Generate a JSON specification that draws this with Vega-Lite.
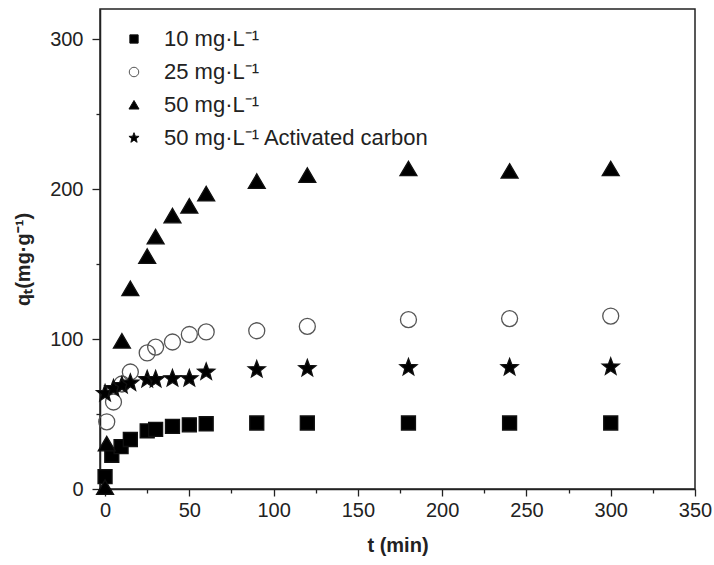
{
  "$schema": "https://vega.github.io/schema/vega-lite/v6.json",
  "width": 595,
  "height": 480,
  "autosize": {"type": "none"},
  "padding": {"left": 100, "top": 9, "right": 19, "bottom": 76},
  "background": "white",
  "config": {
    "font": "Liberation Sans",
    "view": {"stroke": "#222", "strokeWidth": 1.5},
    "axis": {
      "domainColor": "#222",
      "domainWidth": 1.5,
      "tickColor": "#222",
      "tickWidth": 1.3,
      "grid": false,
      "labelFont": "Liberation Sans",
      "labelFontSize": 20,
      "labelColor": "#222",
      "titleFont": "Liberation Sans",
      "titleFontSize": 20,
      "titleFontWeight": "bold",
      "titleColor": "#222"
    },
    "legend": {
      "orient": "none",
      "legendX": 23,
      "legendY": 19,
      "padding": 0,
      "labelFontSize": 22,
      "labelColor": "#222",
      "labelFont": "Liberation Sans",
      "labelOffset": 19,
      "labelLimit": 0,
      "rowPadding": 11,
      "symbolSize": 90,
      "symbolStrokeWidth": 1
    }
  },
  "data": {
    "values": [
      {"t": 0, "q": 8.2, "s": "10 mg·L⁻¹"},
      {"t": 4, "q": 22.5, "s": "10 mg·L⁻¹"},
      {"t": 9.5, "q": 28.2, "s": "10 mg·L⁻¹"},
      {"t": 15, "q": 33, "s": "10 mg·L⁻¹"},
      {"t": 25, "q": 38.7, "s": "10 mg·L⁻¹"},
      {"t": 30, "q": 39.8, "s": "10 mg·L⁻¹"},
      {"t": 40, "q": 41.8, "s": "10 mg·L⁻¹"},
      {"t": 50, "q": 42.8, "s": "10 mg·L⁻¹"},
      {"t": 60, "q": 43.5, "s": "10 mg·L⁻¹"},
      {"t": 90, "q": 44, "s": "10 mg·L⁻¹"},
      {"t": 120, "q": 44, "s": "10 mg·L⁻¹"},
      {"t": 180, "q": 44, "s": "10 mg·L⁻¹"},
      {"t": 240, "q": 44, "s": "10 mg·L⁻¹"},
      {"t": 300, "q": 44, "s": "10 mg·L⁻¹"},
      {"t": 1, "q": 44.8, "s": "25 mg·L⁻¹"},
      {"t": 5, "q": 58, "s": "25 mg·L⁻¹"},
      {"t": 10, "q": 70, "s": "25 mg·L⁻¹"},
      {"t": 15, "q": 78, "s": "25 mg·L⁻¹"},
      {"t": 25, "q": 90.7, "s": "25 mg·L⁻¹"},
      {"t": 30, "q": 94.6, "s": "25 mg·L⁻¹"},
      {"t": 40, "q": 98, "s": "25 mg·L⁻¹"},
      {"t": 50, "q": 103, "s": "25 mg·L⁻¹"},
      {"t": 60, "q": 104.7, "s": "25 mg·L⁻¹"},
      {"t": 90, "q": 105.5, "s": "25 mg·L⁻¹"},
      {"t": 120, "q": 108.4, "s": "25 mg·L⁻¹"},
      {"t": 180, "q": 112.9, "s": "25 mg·L⁻¹"},
      {"t": 240, "q": 113.6, "s": "25 mg·L⁻¹"},
      {"t": 300, "q": 115.3, "s": "25 mg·L⁻¹"},
      {"t": 0, "q": 1, "s": "50 mg·L⁻¹"},
      {"t": 1, "q": 30, "s": "50 mg·L⁻¹"},
      {"t": 10, "q": 98.5, "s": "50 mg·L⁻¹"},
      {"t": 15, "q": 133.5, "s": "50 mg·L⁻¹"},
      {"t": 25, "q": 155, "s": "50 mg·L⁻¹"},
      {"t": 30, "q": 168, "s": "50 mg·L⁻¹"},
      {"t": 40, "q": 182, "s": "50 mg·L⁻¹"},
      {"t": 50, "q": 188.5, "s": "50 mg·L⁻¹"},
      {"t": 60, "q": 196.7, "s": "50 mg·L⁻¹"},
      {"t": 90, "q": 205, "s": "50 mg·L⁻¹"},
      {"t": 120, "q": 209, "s": "50 mg·L⁻¹"},
      {"t": 180, "q": 213.4, "s": "50 mg·L⁻¹"},
      {"t": 240, "q": 211.8, "s": "50 mg·L⁻¹"},
      {"t": 300, "q": 213.4, "s": "50 mg·L⁻¹"},
      {"t": 0, "q": 63.7, "s": "50 mg·L⁻¹ Activated carbon"},
      {"t": 5, "q": 67, "s": "50 mg·L⁻¹ Activated carbon"},
      {"t": 10, "q": 69, "s": "50 mg·L⁻¹ Activated carbon"},
      {"t": 15, "q": 70.7, "s": "50 mg·L⁻¹ Activated carbon"},
      {"t": 25, "q": 73, "s": "50 mg·L⁻¹ Activated carbon"},
      {"t": 30, "q": 73, "s": "50 mg·L⁻¹ Activated carbon"},
      {"t": 40, "q": 73.6, "s": "50 mg·L⁻¹ Activated carbon"},
      {"t": 50, "q": 73.6, "s": "50 mg·L⁻¹ Activated carbon"},
      {"t": 60, "q": 78, "s": "50 mg·L⁻¹ Activated carbon"},
      {"t": 90, "q": 79.6, "s": "50 mg·L⁻¹ Activated carbon"},
      {"t": 120, "q": 80.3, "s": "50 mg·L⁻¹ Activated carbon"},
      {"t": 180, "q": 81, "s": "50 mg·L⁻¹ Activated carbon"},
      {"t": 240, "q": 81, "s": "50 mg·L⁻¹ Activated carbon"},
      {"t": 300, "q": 81.4, "s": "50 mg·L⁻¹ Activated carbon"}
    ]
  },
  "mark": {"type": "point", "strokeWidth": 1.3, "opacity": 1, "size": 256},
  "encoding": {
    "x": {
      "field": "t",
      "type": "quantitative",
      "scale": {"domain": [-3, 350], "nice": false, "zero": false},
      "axis": {
        "title": "t (min)",
        "values": [0, 25, 50, 75, 100, 125, 150, 175, 200, 225, 250, 275, 300, 325, 350],
        "labelExpr": "datum.value % 50 === 0 ? datum.label : ''",
        "tickSize": {"condition": {"test": "datum.value % 50 === 0", "value": 7}, "value": 4},
        "labelPadding": 4,
        "labelFlush": false,
        "titleY": 56,
        "titleBaseline": "middle"
      }
    },
    "y": {
      "field": "q",
      "type": "quantitative",
      "scale": {"domain": [0, 320], "nice": false},
      "axis": {
        "title": "qₜ(mg·g⁻¹)",
        "values": [0, 50, 100, 150, 200, 250, 300],
        "labelExpr": "datum.value % 100 === 0 ? datum.label : ''",
        "tickSize": {"condition": {"test": "datum.value % 100 === 0", "value": 8}, "value": 4},
        "labelPadding": 9,
        "labelFlush": false,
        "titleAngle": 270,
        "titleX": -77,
        "titleY": 250,
        "titleAlign": "center",
        "titleBaseline": "middle"
      }
    },
    "shape": {
      "field": "s",
      "type": "nominal",
      "title": null,
      "scale": {
        "domain": ["10 mg·L⁻¹", "25 mg·L⁻¹", "50 mg·L⁻¹", "50 mg·L⁻¹ Activated carbon"],
        "range": [
          "M-0.875,-0.875L0.875,-0.875L0.875,0.875L-0.875,0.875Z",
          "circle",
          "M0,-0.95L1.06,0.85L-1.06,0.85Z",
          "M0,-1.12L0.28,-0.38L1.065,-0.346L0.45,0.146L0.658,0.906L0,0.47L-0.658,0.906L-0.45,0.146L-1.065,-0.346L-0.28,-0.38Z"
        ]
      },
      "legend": {"title": null}
    },
    "fill": {
      "field": "s",
      "type": "nominal",
      "title": null,
      "scale": {
        "domain": ["10 mg·L⁻¹", "25 mg·L⁻¹", "50 mg·L⁻¹", "50 mg·L⁻¹ Activated carbon"],
        "range": ["#000000", "transparent", "#000000", "#000000"]
      }
    },
    "stroke": {
      "field": "s",
      "type": "nominal",
      "title": null,
      "scale": {
        "domain": ["10 mg·L⁻¹", "25 mg·L⁻¹", "50 mg·L⁻¹", "50 mg·L⁻¹ Activated carbon"],
        "range": ["#111111", "#555555", "#111111", "#111111"]
      }
    }
  }
}
